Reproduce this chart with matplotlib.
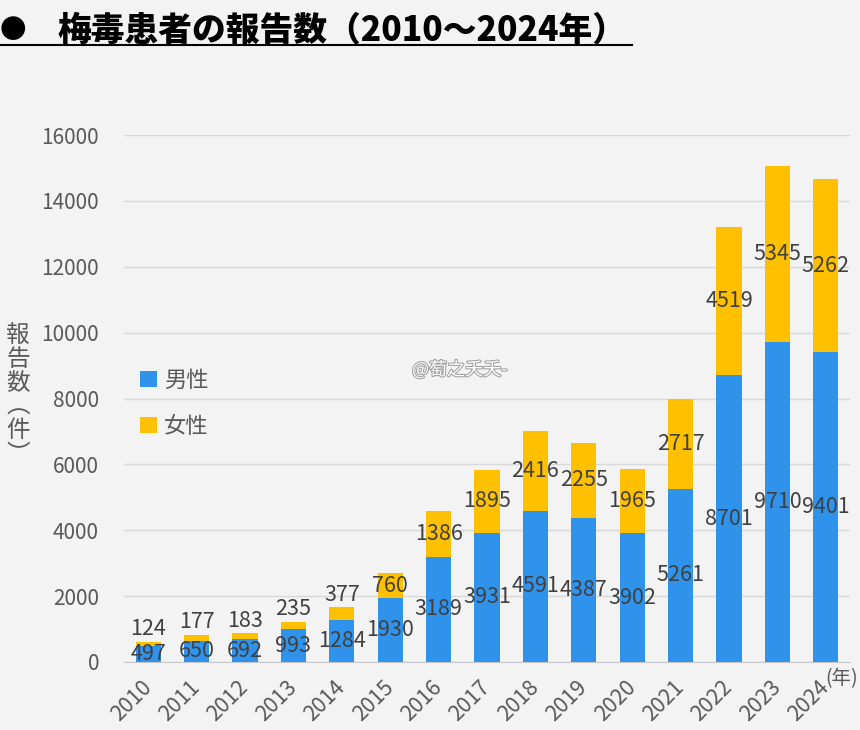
import matplotlib.pyplot as plt
import matplotlib.patheffects as pe
import numpy as np

plt.rcParams['font.family'] = ['Noto Sans CJK JP', 'DejaVu Sans']

years = ['2010', '2011', '2012', '2013', '2014', '2015', '2016', '2017',
         '2018', '2019', '2020', '2021', '2022', '2023', '2024']
male = np.array([497, 650, 692, 993, 1284, 1930, 3189, 3931, 4591, 4387, 3902, 5261, 8701, 9710, 9401])
female = np.array([124, 177, 183, 235, 377, 760, 1386, 1895, 2416, 2255, 1965, 2717, 4519, 5345, 5262])

blue = '#2F93EC'
yellow = '#FFC000'
text_grey = '#595959'
label_grey = '#404040'

fig = plt.figure(figsize=(8.6, 7.3), dpi=100)
fig.patch.set_facecolor('#f3f3f3')
ax = fig.add_axes([124 / 860, 1 - 662 / 730, 726 / 860, 527 / 730])
ax.set_facecolor('#f3f3f3')

x = np.arange(len(years))
w = 0.52
ax.bar(x, male, w, color=blue, label='男性', zorder=3)
ax.bar(x, female, w, bottom=male, color=yellow, label='女性', zorder=3)

# data labels: centred, small female segments pushed above the bar
for i in range(len(years)):
    ax.text(x[i], male[i] / 2, str(male[i]), ha='center', va='center',
            fontsize=15.5, color=label_grey, zorder=4)
    if female[i] < 600:
        yf = male[i] + female[i] + 40
        va = 'bottom'
    else:
        yf = male[i] + female[i] / 2
        va = 'center'
    ax.text(x[i], yf, str(female[i]), ha='center', va=va,
            fontsize=15.5, color=label_grey, zorder=4)

ax.set_xlim(-0.5, 14.5)
ax.set_ylim(0, 16000)
ax.set_yticks(np.arange(0, 16001, 2000))
ax.grid(axis='y', color='#d9d9d9', linewidth=1, zorder=0)
for s in ['top', 'right', 'left']:
    ax.spines[s].set_visible(False)
ax.spines['bottom'].set_color('#c8c8c8')
ax.tick_params(axis='both', length=0, labelsize=15, colors=text_grey)
ax.tick_params(axis='y', pad=18)
ax.tick_params(axis='x', pad=16, labelsize=15.5)
ax.set_xticks(x)
ax.set_xticklabels(years, rotation=45, ha='right', va='center',
                   rotation_mode='anchor')

fig.text(858 / 860, 1 - 668 / 730, '(年)', ha='right', va='top', fontsize=14,
         color=text_grey)

leg = ax.legend(loc='upper left', bbox_to_anchor=(-0.005, 0.595), frameon=False,
                fontsize=16, handlelength=0.75, handleheight=0.75,
                handletextpad=0.3, labelspacing=1.05, labelcolor=text_grey)

fig.text(18 / 860, 1 - 395 / 730, '\n'.join(['報', '告', '数', '︵', '件', '︶']),
         ha='center', va='center', fontsize=17, color=text_grey, linespacing=1.05)

# title
fig.text(0, 1 - 30 / 730, '●', ha='left', va='center', fontsize=19, color='black')
fig.text(57 / 860, 1 - 30 / 730, '梅毒患者の報告数（2010～2024年）', ha='left',
         va='center', fontsize=24.3, fontweight='heavy', color='black')
fig.add_artist(plt.Line2D([0, 632 / 860], [1 - 45 / 730, 1 - 45 / 730],
                          color='black', linewidth=1.5))

# watermark
fig.text(412 / 860, 1 - 370 / 730, '@萄之夭夭-', ha='left', va='center',
         fontsize=13, color='white',
         path_effects=[pe.withStroke(linewidth=1.5, foreground='#a0a0a0')])

fig.savefig('out.png', dpi=100, facecolor=fig.get_facecolor())
